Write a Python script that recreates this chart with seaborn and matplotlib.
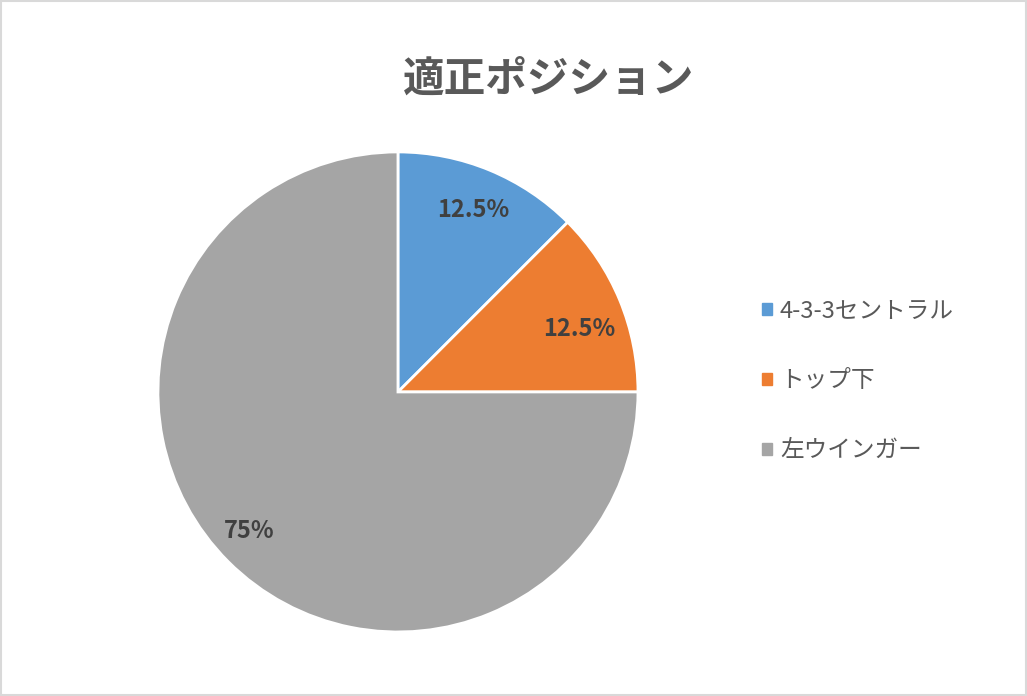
import numpy as np
import matplotlib
matplotlib.use("Agg")
import matplotlib.pyplot as plt
import matplotlib.patches as mpatches
import seaborn as sns

labels = ["4-3-3セントラル", "トップ下", "左ウインガー"]
shares = [12.5, 12.5, 75]
colors = ["#5B9BD5", "#ED7D31", "#A5A5A5"]
title = "適正ポジション"

sns.set_theme(style="white")
plt.rcParams["font.family"] = ["Noto Sans CJK JP", "DejaVu Sans"]

fig = plt.figure(figsize=(10.27, 6.96), dpi=100)
ax = fig.add_axes([0.1538, 0.0920, 0.4674, 0.6897])

wedges, texts, autotexts = ax.pie(
    shares, colors=colors, startangle=90, counterclock=False,
    autopct=lambda p: f"{p:g}%", pctdistance=0.82,
    wedgeprops=dict(edgecolor="white", linewidth=2),
    textprops=dict(fontsize=17, fontweight="bold", color="#404040"))
ax.set_xlim(-1, 1)
ax.set_ylim(-1, 1)
ax.set_aspect("equal")

# Excel puts the big slice label lower-left rather than at the slice middle
ang = np.deg2rad(223)
autotexts[2].set_position((0.85 * np.cos(ang), 0.85 * np.sin(ang)))
ang = np.deg2rad(19)
autotexts[1].set_position((0.8 * np.cos(ang), 0.8 * np.sin(ang)))

fig.text(0.534, 0.886, title, ha="center", va="center",
         fontsize=30, fontweight="bold", color="#595959")

handles = [mpatches.Patch(color=c) for c in colors]
fig.legend(handles, labels, loc="center left", bbox_to_anchor=(0.721, 0.4526),
           frameon=False, fontsize=17, labelcolor="#595959",
           handlelength=0.42, handleheight=0.42, handletextpad=0.35,
           labelspacing=1.98)

fig.patches.append(mpatches.Rectangle((0.001, 0.001), 0.998, 0.998,
                                      transform=fig.transFigure, fill=False,
                                      edgecolor="#D9D9D9", linewidth=1.5))

fig.savefig("out.png", dpi=100)
